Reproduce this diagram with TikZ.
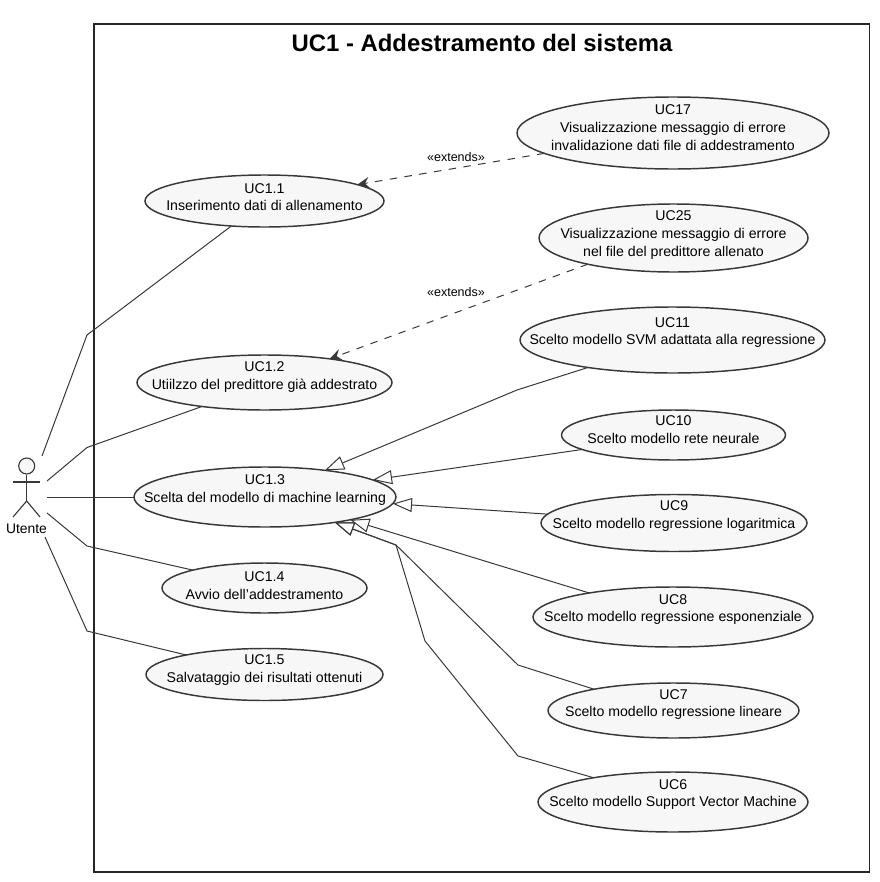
\documentclass[tikz,border=0pt]{standalone}
\usepackage{fontspec}
\setmainfont{Liberation Sans}
\usetikzlibrary{shapes.geometric,arrows.meta}
\definecolor{ink}{HTML}{383838}
\definecolor{ucfill}{HTML}{F7F7F7}
\tikzset{
  ucshape/.style={ellipse,draw=ink,fill=ucfill,line width=1.1pt,inner sep=0pt,outer sep=0pt},
  uctext/.style={align=center,inner sep=0pt,yshift=-0.75pt,font=\fontsize{10.6pt}{13.3pt}\selectfont,text=black},
  assoc/.style={draw=ink,line width=0.75pt},
  gen/.style={draw=ink,line width=0.75pt,-{Triangle[open,length=14.5pt,width=10.5pt]}},
  ext/.style={draw=ink,line width=0.75pt,dash pattern=on 5.6pt off 5.6pt,-{Stealth[length=9pt,width=8.5pt,inset=3.2pt]}},
  stereo/.style={inner sep=0pt,font=\fontsize{9.4pt}{11pt}\selectfont,text=black},
  limb/.style={draw=ink,line width=0.85pt},
}
\newcommand{\ucnode}[7]{%
  \node[ucshape,minimum width=#4*1.5pt,minimum height=#5*1.5pt] (#1) at (#2,#3) {};
  \node[uctext] (#1t) at (#2,#6) {#7};
}
\begin{document}
\begin{tikzpicture}[x=0.75pt,y=-0.75pt]
\useasboundingbox (0,0) rectangle (879,882);
\node[draw=black!85,line width=1pt,minimum width=775.5*0.75pt,minimum height=848*0.75pt,inner sep=0pt] (sys) at (481.75,448) {};
\node[inner sep=0pt,font=\fontsize{17.9pt}{20pt}\selectfont\bfseries] (title) at (482,43) {UC1 - Addestramento del sistema};

% use cases
\ucnode{ua}{264.5}{201}{119.5}{26}{196}{UC1.1\\Inserimento dati di allenamento}
\ucnode{ub}{264.5}{382.5}{127.5}{27.5}{376}{UC1.2\\Utiilzzo del predittore già addestrato}
\ucnode{uc}{265}{497}{131}{30}{488.7}{UC1.3\\Scelta del modello di machine learning}
\ucnode{ud}{264.5}{588}{102.5}{25}{584.7}{UC1.4\\Avvio dell'addestramento}
\ucnode{ue}{264.5}{674.5}{118.5}{26}{669}{UC1.5\\Salvataggio dei risultati ottenuti}
\ucnode{uq}{673}{133}{156}{36}{126.7}{UC17\\Visualizzazione messaggio di errore\\invalidazione dati file di addestramento}
\ucnode{ur}{673.5}{238}{134.5}{34}{234}{UC25\\Visualizzazione messaggio di errore\\nel file del predittore allenato}
\ucnode{us}{672.5}{340}{152.5}{33}{331.5}{UC11\\Scelto modello SVM adattata alla regressione}
\ucnode{ut}{673.5}{435}{112}{25}{428.5}{UC10\\Scelto modello rete neurale}
\ucnode{uu}{674}{523}{133}{28.5}{515}{UC9\\Scelto modello regressione logaritmica}
\ucnode{uv}{673}{617}{140}{30}{608.5}{UC8\\Scelto modello regressione esponenziale}
\ucnode{uw}{673.5}{710.5}{125.5}{27.5}{703.5}{UC7\\Scelto modello regressione lineare}
\ucnode{ux}{673}{802}{135}{30}{793.5}{UC6\\Scelto modello Support Vector Machine}

% actor
\node[circle,draw=ink,fill=ucfill,line width=0.85pt,minimum size=12pt,inner sep=0pt] (head) at (26.7,466) {};
\coordinate (hip) at (26.7,501);
\coordinate (armL) at (13,482);
\coordinate (armR) at (40,482);
\coordinate (legL) at (13,517);
\coordinate (legR) at (40,517);
\draw[limb] (head.south) -- (hip);
\draw[limb] (armL) -- (armR);
\draw[limb] (legL) -- (hip) -- (legR);
\node[inner sep=0pt,font=\fontsize{10.4pt}{12pt}\selectfont] (actor) at (26.5,529) {Utente};

% actor connectors
\coordinate (a1) at (42,456); \coordinate (b1) at (87,335);
\coordinate (a2) at (47,481); \coordinate (b2) at (87,447.5);
\coordinate (a3) at (47,497);
\coordinate (a4) at (47,513); \coordinate (b4) at (87,546);
\coordinate (a5) at (45,537); \coordinate (b5) at (87,631);
\draw[assoc] (a1) -- (b1) -- (ua.-143.7);
\draw[assoc] (a2) -- (b2) -- (ub.-159.8);
\draw[assoc] (a3) -- (uc.180);
\draw[assoc] (a4) -- (b4) -- (ud.166.3);
\draw[assoc] (a5) -- (b5) -- (ue.166.4);

% extends
\draw[ext] (uq.189.8) -- (ua.10.5);
\draw[ext] (ur.197) -- (ub.20.6);
\node[stereo] (s1) at (456,157) {«extends»};
\node[stereo] (s2) at (456,292) {«extends»};

% generalisations
\coordinate (g1) at (517,390);
\coordinate (j) at (396,545);
\coordinate (g7) at (518,665);
\coordinate (g6a) at (425,641);
\coordinate (g6b) at (518,756);
\draw[gen] (us.-162) -- (g1) -- (uc.24);
\draw[gen] (ut.-171.6) -- (uc.9);
\draw[gen] (uu.176.9) -- (uc.-3.3);
\draw[gen] (uv.164.4) -- (uc.-15.9);
\draw[gen] (uw.165.3) -- (g7) -- (j) -- (uc.-20);
\draw[gen] (ux.163.5) -- (g6b) -- (g6a) -- (j) -- (uc.-20);
\end{tikzpicture}
\end{document}
